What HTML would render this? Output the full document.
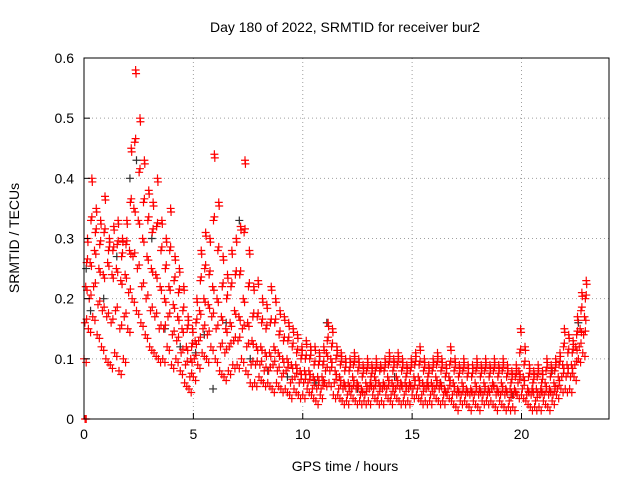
<!DOCTYPE html>
<html><head><meta charset="utf-8"><style>
body{margin:0;background:#fff;}
svg text{font-family:"Liberation Sans",sans-serif;font-size:14px;fill:#000;}
</style></head><body>
<svg id="chart" width="640" height="480" xmlns="http://www.w3.org/2000/svg">
<rect width="640" height="480" fill="#fff"/>
<text x="345" y="32" text-anchor="middle">Day 180 of 2022, SRMTID for receiver bur2</text>
<text x="345" y="471" text-anchor="middle">GPS time / hours</text>
<text transform="translate(19,238) rotate(-90)" text-anchor="middle">SRMTID / TECUs</text>
<g id="grid"></g><g id="marks"></g><g id="ticks"></g>
<rect x="84" y="58" width="525" height="361" fill="none" stroke="#000" stroke-width="1"/>
</svg>
<script>
const xTicks=[0,5,10,15,20];
const yTicks=[0,0.1,0.2,0.3,0.4,0.5,0.6];
const timeStep=0.2;
const redHigh=[30,40,35,33,37,30,32,33,30,33,45,58,50,43,38,36,40,33,30,35,27,25,22,17,15,20,28,31,30,44,36,27,24,28,30,32,43,28,22,23,20,19,22,20,18,17,16,15,14,12,13,12,12,11,12,16,15,12,11,10,10,11,10,9,10,9,10,9,10,11,10,11,10,9,10,11,12,10,9,10,11,10,9,12,10,9,10,9,9,10,9,10,9,10,9,10,9,8,9,15,12,9,8,9,8,10,9,10,11,15,14,13,17,21,23];
const redQ3=[26,33,31,29,31,28,28,29,27,29,36,46,41,36,33,31,32,28,25,28,23,21,18,15,12,16,23,25,24,33,28,22,20,22,24,24,31,22,17,17,16,15,16,16,14,13,13,12,11,10,10,10,9,9,9,13,12,10,9,8,8,9,8,7,8,7,8,8,8,9,8,9,8,7,8,9,9,8,7,8,9,8,7,9,8,7,8,7,7,8,7,8,7,8,7,8,7,6,7,11,9,7,6,7,6,8,7,8,9,12,11,11,14,18,20];
const redMid=[22,26,28,25,24,26,24,25,23,24,28,35,33,30,27,25,24,22,20,22,19,17,15,12,10,13,18,20,19,22,20,17,15,16,18,17,20,16,13,12,12,11,11,12,11,10,10,9,9,8,8,8,7,7,7,11,10,8,7,6,6,7,6,5,6,6,7,6,6,7,6,7,6,6,6,7,7,6,6,6,7,6,5,7,6,5,6,5,5,6,5,6,5,6,5,6,5,5,5,8,7,5,5,5,5,6,5,6,7,9,9,9,12,15,17];
const redQ1=[16,20,22,19,18,17,16,18,15,17,21,27,25,22,20,18,17,15,15,17,14,13,11,9,7,10,13,15,14,17,15,12,11,12,13,13,15,12,9,9,9,8,8,9,8,7,8,6,7,6,6,6,5,5,5,8,8,6,5,5,4,5,5,4,4,5,5,4,5,5,4,5,5,4,5,5,5,4,5,4,5,5,4,5,4,4,4,4,4,4,4,4,4,5,4,4,4,3,4,6,5,4,4,3,4,4,4,4,5,7,7,7,9,12,14];
const redLow=[10,15,17,14,12,10,9,11,8,10,15,20,18,16,14,12,11,10,10,12,9,10,8,6,5,7,9,11,10,12,10,8,7,8,9,9,10,8,6,6,7,6,6,5,6,5,5,4,5,4,4,5,4,3,4,6,6,4,4,3,3,4,3,3,3,3,4,3,3,4,3,4,3,3,3,4,4,3,3,3,4,3,3,4,3,2,3,3,2,3,2,3,3,3,2,3,2,2,2,4,4,3,2,2,2,3,2,3,4,5,5,5,7,10,11];
const blackT=[0.1,0.3,0.9,1.5,2.1,2.4,3.1,3.7,4.4,5.1,5.5,5.9,6.5,7.1,7.6,8.4,9.3,10.6,11.1,12.5,14.2,16.3,18.1,19.6,21.4,22.6];
const blackV=[0.25,0.18,0.20,0.27,0.40,0.43,0.30,0.15,0.12,0.11,0.14,0.05,0.16,0.33,0.10,0.08,0.07,0.06,0.16,0.05,0.07,0.06,0.05,0.04,0.08,0.16];
const originT=[0.05,0.1];
const originV=[0,0];
const X0=84,X1=609,Y0=419,Y1=58;
const xs=t=>X0+t/24*(X1-X0);
const ys=v=>Y0-v/0.6*(Y0-Y1);
const NS="http://www.w3.org/2000/svg";
const grid=document.getElementById('grid'),marks=document.getElementById('marks'),ticks=document.getElementById('ticks');
function mk(tag,attrs,parent){const e=document.createElementNS(NS,tag);for(const k in attrs)e.setAttribute(k,attrs[k]);parent.appendChild(e);return e;}
xTicks.forEach(t=>{const x=xs(t);
 if(t>0){const g=mk('line',{x1:x,x2:x,y1:Y1,y2:Y0,stroke:'#a0a0a0','stroke-dasharray':'1,3'},grid);
 
 }
 const l=mk('line',{x1:x,x2:x,y1:Y0,y2:Y0-6,stroke:'#000'},ticks);
 
 
 const tx=mk('text',{x:x,y:Y0+20,'text-anchor':'middle'},ticks);tx.textContent=t;
 
 });
yTicks.forEach(v=>{const y=ys(v);
 if(v>0&&v<0.6){const g=mk('line',{x1:X0,x2:X1,y1:y,y2:y,stroke:'#a0a0a0','stroke-dasharray':'1,3'},grid);
 
 }
 const l=mk('line',{x1:X0,x2:X0+6,y1:y,y2:y,stroke:'#000'},ticks);
 
 
 const tx=mk('text',{x:X0-10,y:y+5,'text-anchor':'end'},ticks);tx.textContent=v===0?'0':v.toFixed(1);
 
 });
function plus(t,v,color,name){const x=xs(t),y=ys(v);
 const p=mk('path',{d:`M${x-4},${y}h8M${x},${y-4}v8`,stroke:color,'stroke-width':1.2,fill:'none'},marks);
 
 }
blackT.forEach((t,i)=>plus(t,blackV[i],'#303030','black-point'));
[redLow,redQ1,redMid,redQ3,redHigh].forEach((arr,k)=>arr.forEach((v,i)=>{
 plus(i*timeStep+k*0.04,v/100,'#ff0000','red-point');
 plus(i*timeStep+0.1+k*0.02,v/100+(k%2?0.006:-0.006),'#ff0000','red-point');
}));
originT.forEach((t,i)=>plus(t,originV[i],'#ff0000','origin-point'));
</script>
</body></html>
